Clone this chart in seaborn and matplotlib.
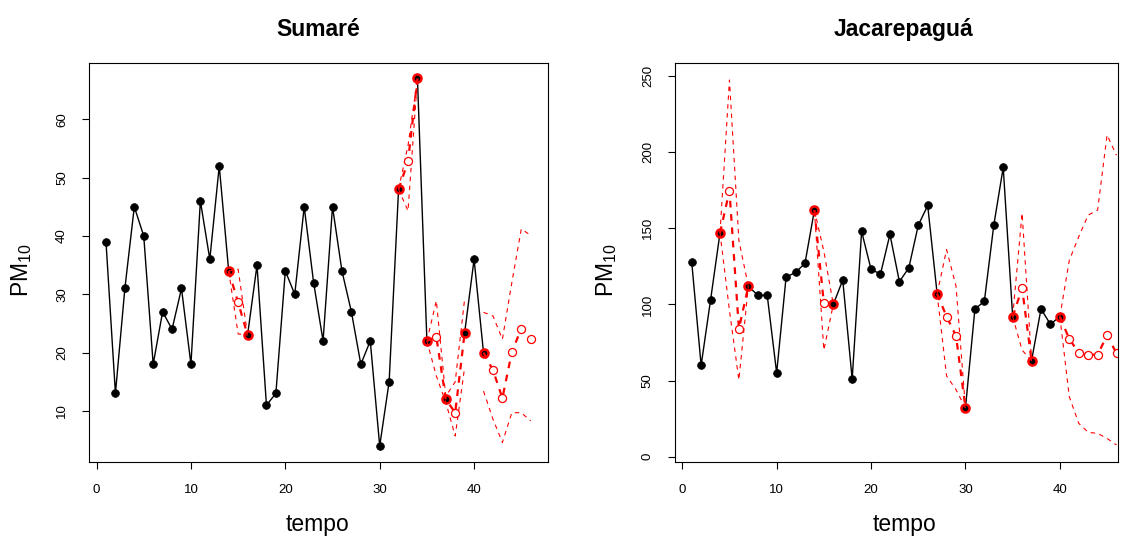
import numpy as np
import pandas as pd
import matplotlib
matplotlib.use("Agg")
import matplotlib.pyplot as plt
import seaborn as sns

nan = np.nan
tempo = list(range(1, 47))

# ---------------- Sumaré ----------------
sumare_obs = [39, 13, 31, 45, 40, 18, 27, 24, 31, 18, 46, 36, 52, 34, nan, 23, 35, 11, 13, 34,
              30, 45, 32, 22, 45, 34, 27, 18, 22, 4, 15, 48, nan, 67, 22, nan, 12, nan, 23.4, 36,
              20, nan, nan, nan, nan, nan]
sumare_pred = [nan] * 14 + [28.6] + [nan] * 17 + [52.8] + [nan, nan, 22.7, nan, 9.7, nan, nan, nan,
               17.0, 12.2, 20.1, 24.1, 22.4]
sumare_upper = [nan] * 13 + [34, 34.3, 23] + [nan] * 15 + [48, 55.5, 67, 22, 28.9, 12.5, 15, 29.2, nan,
                26.9, 26.3, 22.3, 32, 41.2, 40.1]
sumare_lower = [nan] * 13 + [34, 23.2, 23] + [nan] * 15 + [48, 44.3, 67, 22, 16, 11.5, 5.7, 17.5, nan,
                13.4, 8.6, 4.6, 9.7, 9.7, 8.3]
# prediction windows (first, last tempo)
sumare_windows = [(14, 16), (32, 34), (35, 39), (41, 46)]

# ---------------- Jacarepaguá ----------------
jacare_obs = [128, 60, 103, 147, nan, nan, 112, 106, 106, 55, 118, 121, 127, 162, nan, 100, 116, 51,
              148, 123, 120, 146, 115, 124, 152, 165, 107, nan, nan, 32, 97, 102, 152, 190, 92, nan,
              63, 97, 87, 92, nan, nan, nan, nan, nan, nan]
jacare_pred = [nan] * 4 + [174.7, 84.1] + [nan] * 8 + [100.7] + [nan] * 12 + [92.0, 79.3] + [nan] * 6 + \
              [110.8] + [nan] * 4 + [77.3, 68.3, 67.0, 67.0, 79.7, 67.9]
jacare_upper = [nan] * 3 + [147, 247.4, 142, 112] + [nan] * 6 + [162, 135, 100] + [nan] * 10 + \
               [107, 136, 112, 32] + [nan] * 4 + [92, 160, 63, nan, nan, 92, 129, 144.5, 158.7, 162, 211.3, 198]
jacare_lower = [nan] * 3 + [147, 96, 50.4, 112] + [nan] * 6 + [162, 70, 100] + [nan] * 10 + \
               [107, 53, 44, 32] + [nan] * 4 + [92, 70, 63, nan, nan, 92, 39.4, 21.9, 16, 15.3, 12, 7.7]
jacare_windows = [(4, 7), (14, 16), (27, 30), (35, 37), (40, 46)]

titles = ["Sumaré", "Jacarepaguá"]
y_ticks = [[10, 20, 30, 40, 50, 60], [0, 50, 100, 150, 200, 250]]
x_ticks = [0, 10, 20, 30, 40]
ylims = [(1.3, 69.6), (-3.3, 258.4)]
xlims = [(-0.8, 47.8), (-0.8, 46.19)]

sns.set_style("white")
plt.rcParams['font.family'] = ['Liberation Sans', 'DejaVu Sans']
plt.rcParams['mathtext.fontset'] = 'custom'
plt.rcParams['mathtext.rm'] = 'Liberation Sans'
plt.rcParams['mathtext.it'] = 'Liberation Sans'
for k in ["text.color", "axes.labelcolor", "xtick.color", "ytick.color", "axes.edgecolor"]:
    plt.rcParams[k] = "black"

fig = plt.figure(figsize=(11.26, 5.38), dpi=100)
H = 538.0
W = 1126.0
ax_l = fig.add_axes([89 / W, (H - 461.7) / H, (547.7 - 89) / W, (461.7 - 63.3) / H])
ax_r = fig.add_axes([674.7 / W, (H - 461.7) / H, (1118.3 - 674.7) / W, (461.7 - 63.3) / H])


def draw_line(ax, t, y, **kw):
    df = pd.DataFrame({"t": t, "y": y})
    miss = df["y"].isna()
    df["seg"] = miss.cumsum()
    df = df[~miss]
    if len(df) < 2:
        return
    sns.lineplot(data=df, x="t", y="y", units="seg", estimator=None, sort=False,
                 ax=ax, legend=False, **kw)


def draw_points(ax, t, y, **kw):
    df = pd.DataFrame({"t": t, "y": y}).dropna()
    sns.lineplot(data=df, x="t", y="y", estimator=None, sort=False, ax=ax,
                 legend=False, linestyle="none", **kw)


panels = [
    (ax_l, sumare_obs, sumare_pred, sumare_upper, sumare_lower, sumare_windows),
    (ax_r, jacare_obs, jacare_pred, jacare_upper, jacare_lower, jacare_windows),
]

t_arr = np.array(tempo)
for i, (ax, obs, pred, up, lo, windows) in enumerate(panels):
    obs_a = np.array(obs, dtype=float)
    pred_a = np.array(pred, dtype=float)
    up_a = np.array(up, dtype=float)
    lo_a = np.array(lo, dtype=float)

    # observed series
    draw_line(ax, tempo, obs, color="black", lw=1.0)
    draw_points(ax, tempo, obs, marker="o", ms=5.6, mfc="black", mec="black", mew=0.5)

    ring_t, ring_y = [], []
    for (a, b) in windows:
        m = (t_arr >= a) & (t_arr <= b)
        tt = t_arr[m]
        link = np.where(~np.isnan(pred_a[m]), pred_a[m], obs_a[m])
        draw_line(ax, tt, up_a[m], color="red", lw=0.8, linestyle=(0, (4, 4)))
        draw_line(ax, tt, lo_a[m], color="red", lw=0.8, linestyle=(0, (4, 4)))
        draw_line(ax, tt, link, color="red", lw=1.6, linestyle=(0, (3, 3)))
        om = ~np.isnan(obs_a[m])
        ring_t += list(tt[om])
        ring_y += list(obs_a[m][om])

    draw_points(ax, ring_t, ring_y, marker="o", ms=5.8, mfc="none", mec="red", mew=1.8)
    draw_points(ax, tempo, pred, marker="o", ms=5.8, mfc="white", mec="red", mew=0.9)

    ax.set_xlim(*xlims[i])
    ax.set_ylim(*ylims[i])
    ax.set_xticks(x_ticks)
    ax.set_yticks(y_ticks[i])
    ax.set_xticklabels([str(v) for v in x_ticks])
    ax.set_yticklabels([str(v) for v in y_ticks[i]], rotation=90, va="center")
    ax.set_xlabel("")
    ax.set_ylabel("")
    ax.tick_params(axis="x", direction="out", length=5, width=0.8, pad=11, labelsize=9.5,
                   bottom=True, colors="black")
    ax.tick_params(axis="y", direction="out", length=5, width=0.8, pad=10, labelsize=9.5,
                   left=True, colors="black")
    for s in ax.spines.values():
        s.set_visible(True)
        s.set_color("black")
        s.set_linewidth(0.8)

centers = [318 / W, 904 / W]
ylab_x = [22 / W, 607 / W]
for i in range(2):
    fig.text(centers[i], 1 - 36 / H, titles[i], ha="center", va="baseline",
             fontsize=16.5, fontweight="bold", color="black")
    fig.text(centers[i], 1 - 531 / H, "tempo", ha="center", va="baseline", fontsize=16.5,
             color="black")
    fig.text(ylab_x[i], 1 - 270 / H, r"PM$_{10}$", ha="center", va="center",
             rotation=90, fontsize=16.5, color="black")

fig.savefig("out.png", dpi=100)
